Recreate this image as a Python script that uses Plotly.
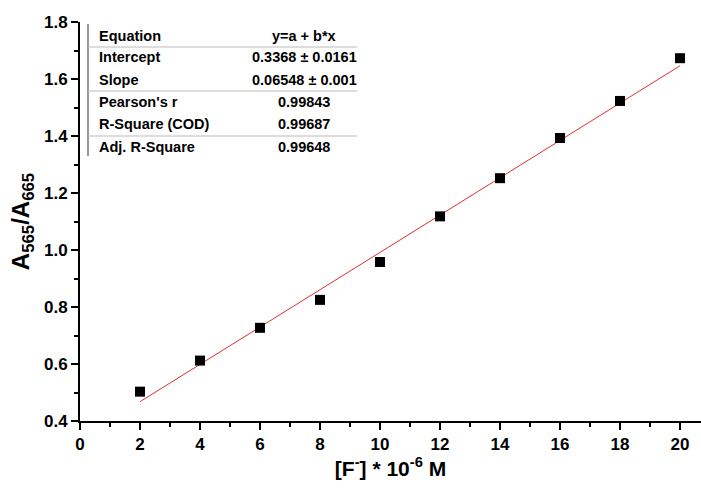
import plotly.graph_objects as go

# Data
conc = [2, 4, 6, 8, 10, 12, 14, 16, 18, 20]
ratio = [0.503, 0.612, 0.727, 0.825, 0.958, 1.118, 1.252, 1.393, 1.523, 1.673]
intercept = 0.3368
slope = 0.06548
fit_x = [2, 20]

table_labels = ["Equation", "Intercept", "Slope", "Pearson's r", "R-Square (COD)", "Adj. R-Square"]
table_values = ["y=a + b*x", "0.3368 ± 0.0161", "0.06548 ± 0.001", "0.99843", "0.99687", "0.99648"]

W, H = 701, 490
L, R, T, B = 80, 0, 22, 69
pw, ph = W - L - R, H - T - B

def px(x):
    return (x - L) / pw

def py(y):
    return (H - B - y) / ph

FONT = "Liberation Sans, Arial, sans-serif"

fig = go.Figure()
fig.add_trace(go.Scatter(
    x=fit_x, y=[intercept + slope * v for v in fit_x], mode="lines",
    line=dict(color="#e03030", width=1), showlegend=False, hoverinfo="skip"))
fig.add_trace(go.Scatter(
    x=conc, y=ratio, mode="markers",
    marker=dict(symbol="square", size=10, color="black"), showlegend=False))

# Table
row_y = [36, 57, 80, 102, 124, 147]
annos = []
for lab, val, yy in zip(table_labels, table_values, row_y):
    annos.append(dict(x=px(97), y=py(yy), xref="paper", yref="paper", text=lab,
                      showarrow=False, xanchor="left", yanchor="middle",
                      font=dict(family=FONT, size=14.5, color="black", weight="bold")))
    annos.append(dict(x=px(304), y=py(yy), xref="paper", yref="paper", text=val,
                      showarrow=False, xanchor="center", yanchor="middle",
                      font=dict(family=FONT, size=14.5, color="black", weight="bold")))

shapes = [dict(type="line", xref="paper", yref="paper", x0=px(88), x1=px(88),
               y0=py(24), y1=py(156), line=dict(color="#333333", width=1))]
for yy in [47, 91, 136]:
    shapes.append(dict(type="line", xref="paper", yref="paper", x0=px(88), x1=px(357),
                       y0=py(yy), y1=py(yy), line=dict(color="#bbbbbb", width=1)))

fig.update_layout(
    width=W, height=H, margin=dict(l=L, r=R, t=T, b=B),
    paper_bgcolor="white", plot_bgcolor="white",
    annotations=annos, shapes=shapes,
    xaxis=dict(range=[0, 20.7], tickvals=list(range(0, 21, 2)), showgrid=False,
               zeroline=False, showline=True, linecolor="black", linewidth=2,
               ticks="outside", ticklen=7, tickwidth=2, tickcolor="black",
               minor=dict(tickvals=list(range(1, 21, 2)), ticks="outside", ticklen=4,
                          tickwidth=2, tickcolor="black"),
               tickfont=dict(family=FONT, size=17, color="black", weight="bold"),
               title=dict(text="[F<sup>-</sup>] * 10<sup>-6</sup> M", standoff=8,
                          font=dict(family=FONT, size=21, color="black", weight="bold"))),
    yaxis=dict(range=[0.4, 1.8], tickvals=[0.4, 0.6, 0.8, 1.0, 1.2, 1.4, 1.6, 1.8],
               ticktext=["0.4", "0.6", "0.8", "1.0", "1.2", "1.4", "1.6", "1.8"],
               showgrid=False, zeroline=False, showline=True, linecolor="black", linewidth=2,
               ticks="outside", ticklen=7, tickwidth=2, tickcolor="black",
               minor=dict(tickvals=[0.5, 0.7, 0.9, 1.1, 1.3, 1.5, 1.7], ticks="outside",
                          ticklen=4, tickwidth=2, tickcolor="black"),
               tickfont=dict(family=FONT, size=17, color="black", weight="bold"),
               title=dict(text="A<sub>565</sub>/A<sub>665</sub>", standoff=8,
                          font=dict(family=FONT, size=24, color="black", weight="bold"))),
)

fig.write_html("out.html")
